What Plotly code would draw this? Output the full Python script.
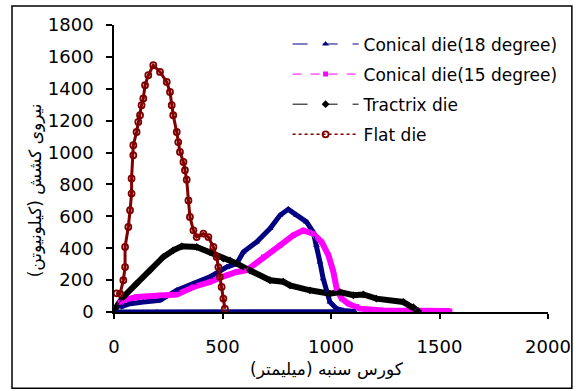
import plotly.graph_objects as go

# ---- data ----
flat_x = [12, 28, 43, 51, 51, 66, 74, 81, 81, 89, 89, 104, 112, 120, 127, 135, 143, 158, 181,
          212, 243, 258, 266, 273, 289, 296, 304, 320, 327, 335, 343, 350, 366, 381, 412, 435,
          458, 473, 481, 488, 496, 504, 511]
flat_y = [117, 115, 199, 282, 408, 533, 638, 743, 838, 983, 1046, 1129, 1192, 1234, 1297, 1339,
          1422, 1485, 1548, 1506, 1443, 1380, 1297, 1234, 1129, 1066, 1004, 941, 889, 830, 700,
          596, 512, 470, 492, 470, 408, 345, 282, 220, 157, 84, 21]

tract_x = [5, 43, 104, 166, 227, 273, 312, 381, 442, 504, 535, 565, 627, 719, 780, 811, 903,
           995, 1041, 1103, 1149, 1209, 1333, 1379, 1402]
tract_y = [21, 94, 178, 262, 345, 387, 412, 408, 376, 335, 324, 305, 260, 199, 190, 167, 136,
           115, 125, 105, 110, 84, 63, 31, 6]

c18_x = [28, 74, 135, 212, 289, 366, 442, 519, 565, 596, 657, 719, 765, 803, 841, 887, 918,
         933, 949, 964, 980, 995, 1026, 1057, 1110, 198, 0]
c18_y = [31, 52, 63, 73, 136, 178, 220, 282, 303, 376, 439, 523, 607, 644, 607, 565, 502,
         418, 314, 209, 125, 63, 21, 10, 3, 0, 0]

c15_x = [28, 43, 104, 212, 289, 366, 442, 519, 565, 612, 688, 765, 826, 872, 918, 957, 988,
         1011, 1026, 1049, 1080, 1118, 1134, 1241, 1400, 1548]
c15_y = [61, 73, 94, 105, 110, 157, 188, 230, 251, 262, 345, 418, 481, 512, 492, 439, 356,
         251, 147, 84, 52, 35, 21, 10, 6, 6]

names = ["Conical die(18 degree)", "Conical die(15 degree)", "Tractrix die", "Flat die"]
x_ticks = [0, 500, 1000, 1500, 2000]
y_ticks = [0, 200, 400, 600, 800, 1000, 1200, 1400, 1600, 1800]
x_title = "کورس سنبه (میلیمتر)"
y_title = "نیروی کشش (کیلونیوتن)"

FONT = "DejaVu Sans, Liberation Sans, sans-serif"

fig = go.Figure()

series = [
    (c18_x, c18_y, names[0], "#000080", "triangle-up", "longdash", 5, 6),
    (c15_x, c15_y, names[1], "#FF00FF", "square", "dash", 6, 5),
    (tract_x, tract_y, names[2], "#000000", "diamond", "longdash", 6, 6),
    (flat_x, flat_y, names[3], "#800000", "circle-open", "dot", 3, 6),
]

# thick "dense-marker" bands (no legend)
for xs, ys, nm, col, sym, dash, bw, ms in series:
    fig.add_trace(go.Scatter(x=xs, y=ys, mode="lines", showlegend=False, hoverinfo="skip",
                             line=dict(color=col, width=bw)))

# legend-carrying traces
for i, (xs, ys, nm, col, sym, dash, bw, ms) in enumerate(series):
    fig.add_trace(go.Scatter(
        x=xs, y=ys, mode="lines+markers", name=nm, legendgroup="g%d" % i,
        line=dict(color=col, width=1.5 if sym.endswith("open") else 1, dash=dash),
        marker=dict(symbol=sym, size=ms, color=col,
                    line=dict(color=col, width=1.8 if sym.endswith("open") else 0)),
    ))

fig.update_layout(
    width=576, height=391,
    margin=dict(l=114, r=28, t=25, b=79, autoexpand=False),
    paper_bgcolor="white", plot_bgcolor="white",
    font=dict(family=FONT, size=17, color="black"),
    showlegend=True,
    legend=dict(x=0.40, y=0.995, xanchor="left", yanchor="top",
                bgcolor="rgba(0,0,0,0)", borderwidth=0,
                font=dict(family=FONT, size=17, color="black"),
                itemwidth=66, tracegroupgap=5),
    xaxis=dict(range=[0, 2000], tickvals=x_ticks, ticktext=[str(v) for v in x_ticks],
               automargin=False,
               showgrid=False, zeroline=False, showline=True, linecolor="black", linewidth=1.5,
               ticks="outside", ticklen=5, tickwidth=1.5, tickcolor="black",
               ticklabelstandoff=13, tickfont=dict(family=FONT, size=18)),
    yaxis=dict(range=[0, 1800], tickvals=y_ticks, ticktext=[str(v) for v in y_ticks],
               automargin=False,
               showgrid=False, zeroline=False, showline=True, linecolor="black", linewidth=1.5,
               ticks="outside", ticklen=6, tickwidth=1.5, tickcolor="black",
               ticklabelstandoff=9, tickfont=dict(family=FONT, size=18)),
    annotations=[
        dict(text=x_title, xref="paper", yref="paper", x=0.491, y=-0.2,
             xanchor="center", yanchor="middle", showarrow=False,
             font=dict(family="DejaVu Sans, Noto Sans, sans-serif", size=17)),
        dict(text=y_title, xref="paper", yref="paper", x=-0.182, y=0.424, textangle=-90,
             xanchor="center", yanchor="middle", showarrow=False,
             font=dict(family="DejaVu Sans, Noto Sans, sans-serif", size=17)),
    ],
    shapes=[dict(type="rect", xref="paper", yref="paper",
                 x0=-0.235, x1=1.055, y0=-0.266, y1=1.066,
                 line=dict(color="black", width=1.5))],
)

fig.write_html("out.html")
